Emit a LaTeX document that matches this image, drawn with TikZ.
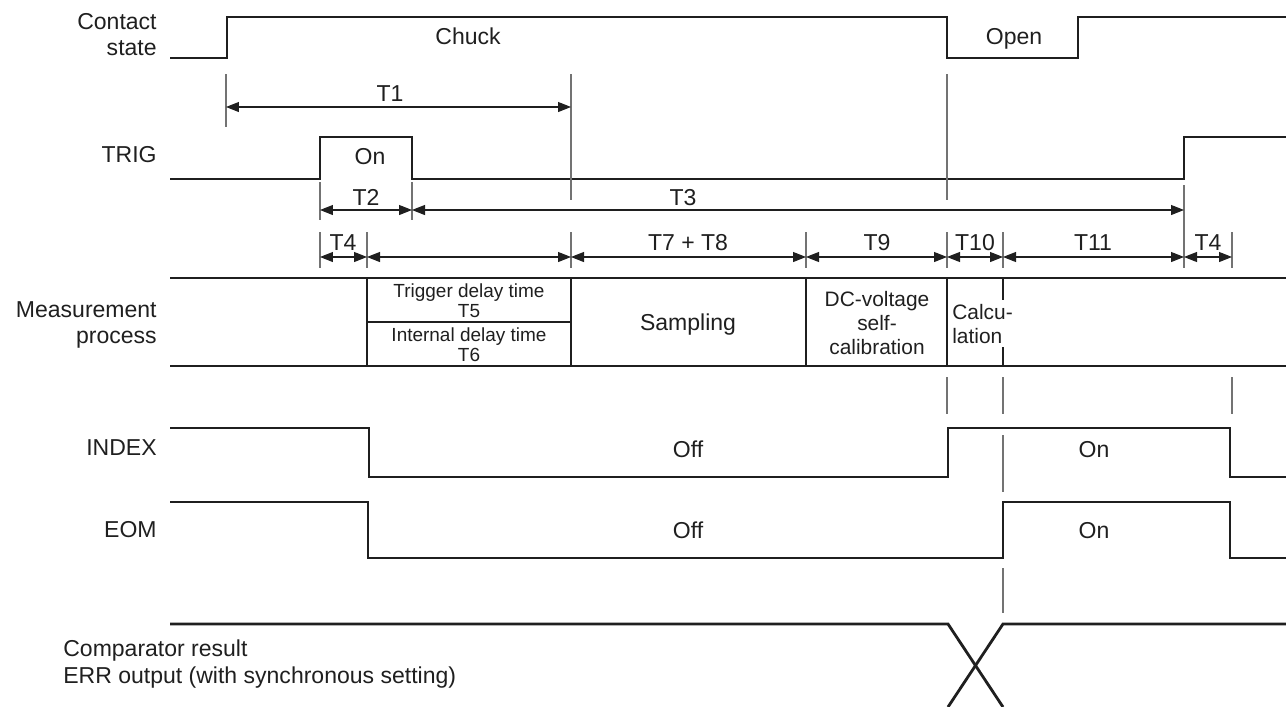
\documentclass[tikz,border=0pt]{standalone}
\usepackage{fontspec}
\setmainfont{Liberation Sans}
\usetikzlibrary{arrows.meta}

\begin{document}
\begin{tikzpicture}[
  x=0.02cm, y=-0.02cm,
  font=\fontsize{13.1}{14.8}\selectfont,
  sig/.style={line width=1.6pt, black!88},
  bar/.style={line width=1.3pt, black!88},
  guide/.style={line width=0.75pt, black!55},
  dim/.style={{Triangle[length=2.6mm,width=2mm]}-{Triangle[length=2.6mm,width=2mm]}, line width=0.6pt, black!88},
  lbl/.style={anchor=east, align=right, inner sep=0pt, text=black!88},
  txt/.style={inner sep=0pt, text=black!88},
  word/.style={txt, text height=1.75ex, text depth=0pt},
  small/.style={txt, align=center, font=\fontsize{10.8}{11.2}\selectfont},
  mid/.style={txt, font=\fontsize{11.9}{13.4}\selectfont}
]
\useasboundingbox (0,0) rectangle (1286,707);

% signal names
\node[lbl] (contact) at (157,35)  {Contact\\state};
\node[lbl] (trig)    at (157,155) {TRIG};
\node[lbl] (meas)    at (157,325) {Measurement\\process};
\node[lbl] (index)   at (157,448) {INDEX};
\node[lbl] (eom)     at (157,530) {EOM};
\node[txt, anchor=west, align=left, font=\fontsize{13.1}{15.4}\selectfont] (cmp) at (63,664)
  {Comparator result\\ERR output (with synchronous setting)};

% waveforms
\draw[sig] (170,58) -| (227,17) -| (947,58) -| (1078,17) -- (1286,17);
\draw[sig] (170,179) -| (320,137) -| (412,179) -| (1184,137) -- (1286,137);
\draw[sig] (170,428) -| (369,477) -| (948,428) -| (1230,477) -- (1286,477);
\draw[sig] (170,502) -| (368,558) -| (1003,502) -| (1230,558) -- (1286,558);
\draw[sig] (170,624) -- (948,624) -- (1003,707);
\draw[sig] (948,707) -- (1003,624) -- (1286,624);

\node[word] (chuck) at (468,36)  {Chuck};
\node[word] (open)  at (1014,36) {Open};
\node[word] (trigon) at (370,156) {On};
\node[word] (idxoff) at (688,449) {Off};
\node[word] (idxon)  at (1094,449) {On};
\node[word] (eomoff) at (688,530) {Off};
\node[word] (eomon)  at (1094,530) {On};

% measurement process band
\draw[bar] (170,278) -- (1286,278);
\draw[bar] (170,366) -- (1286,366);
\draw[bar] (367,322) -- (571,322);
\foreach \x in {367,571,806,947} \draw[bar] (\x,278) -- (\x,366);
\draw[bar] (1003,278) -- (1003,300);
\draw[bar] (1003,347) -- (1003,366);

\node[small] (t5) at (469,301) {Trigger delay time\\T5};
\node[small] (t6) at (469,345) {Internal delay time\\T6};
\node[word] (samp) at (688,322) {Sampling};
\node[mid, align=center] (cal) at (877,323) {DC-voltage\\self-\\calibration};
\node[mid, align=left, anchor=west] (calc) at (952,324) {Calcu-\\lation};

% guide lines
\draw[guide] (226,74) -- (226,127);
\draw[guide] (571,74) -- (571,200);
\draw[guide] (947,74) -- (947,200);
\foreach \x in {320,412} \draw[guide] (\x,182) -- (\x,220);
\draw[guide] (1184,185) -- (1184,268);
\foreach \x in {320,367,571,806,947,1003,1232} \draw[guide] (\x,232) -- (\x,268);
\foreach \x in {947,1003,1232} \draw[guide] (\x,377) -- (\x,414);
\draw[guide] (1003,435) -- (1003,492);
\draw[guide] (1003,568) -- (1003,613);

% time spans
\coordinate (s1a) at (226,107);
\coordinate (s1b) at (571,107);
\coordinate (s2a) at (320,210);
\coordinate (s2b) at (412,210);
\coordinate (s3b) at (1184,210);
\foreach \x/\n in {320/a,367/b,571/c,806/d,947/e,1003/f,1184/g,1232/h}
  \coordinate (m\n) at (\x,257);

\draw[dim] (s1a) -- (s1b);
\draw[dim] (s2a) -- (s2b);
\draw[dim] (s2b) -- (s3b);
\draw[dim] (ma) -- (mb);
\draw[dim] (mb) -- (mc);
\draw[dim] (mc) -- (md);
\draw[dim] (md) -- (me);
\draw[dim] (me) -- (mf);
\draw[dim] (mf) -- (mg);
\draw[dim] (mg) -- (mh);

\node[word] (lt1) at (390,93)   {T1};
\node[word] (lt2) at (366,197)  {T2};
\node[word] (lt3) at (683,197)  {T3};
\node[word] (lt4) at (343,242)  {T4};
\node[word] (lt78) at (688,242) {T7 + T8};
\node[word] (lt9) at (877,242)  {T9};
\node[word] (lt10) at (975,242) {T10};
\node[word] (lt11) at (1093,242) {T11};
\node[word] (lt4b) at (1208,242) {T4};
\end{tikzpicture}
\end{document}
